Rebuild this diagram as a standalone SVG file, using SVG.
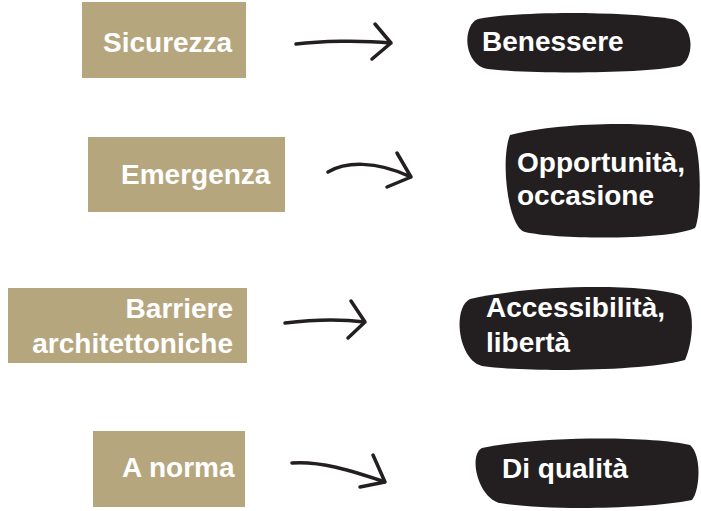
<svg xmlns="http://www.w3.org/2000/svg" width="701" height="511" viewBox="0 0 701 511">
<style>
.box{fill:#B6A67E}
.blob{fill:#231F20}
.t{font-family:"Liberation Sans",Arial,sans-serif;font-weight:bold;font-size:28px;fill:#fff}
.r{text-anchor:end}
.arr{fill:none;stroke:#231F20;stroke-width:3.5;stroke-linecap:round;stroke-linejoin:round}
</style>
<rect width="701" height="511" fill="#fff"/>
<g id="n-sicurezza"><rect class="box" x="82" y="2" width="164" height="76"/><text class="t" x="103" y="52">Sicurezza</text></g>
<g id="n-emergenza"><rect class="box" x="88" y="137" width="197" height="75"/><text class="t" x="121" y="184">Emergenza</text></g>
<g id="n-barriere"><rect class="box" x="8" y="288" width="239" height="75"/><text class="t r" x="233" y="318">Barriere</text><text class="t r" x="233" y="353">architettoniche</text></g>
<g id="n-anorma"><rect class="box" x="93" y="431" width="152" height="76"/><text class="t" x="122" y="477">A norma</text></g>
<g id="n-benessere"><path class="blob" d="M478,19 C520,11 620,11 672,19 C694,23 696,58 680,66 C640,74 530,74 488,69 C463,65 462,25 478,19 Z"/><text class="t" x="482" y="51">Benessere</text></g>
<g id="n-opportunita"><path class="blob" d="M510,135 C560,122 660,120 690,132 C702,140 702,215 695,228 C670,240 560,240 525,232 C508,228 500,160 510,135 Z"/><text class="t" x="517" y="172">Opportunità,</text><text class="t" x="517" y="205">occasione</text></g>
<g id="n-accessibilita"><path class="blob" d="M470,299 C530,285 640,283 680,295 C696,302 694,340 685,360 C640,372 520,372 482,366 C458,360 452,308 470,299 Z"/><text class="t" x="486" y="317">Accessibilità,</text><text class="t" x="486" y="352">libertà</text></g>
<g id="n-diqualita"><path class="blob" d="M482,448 C540,436 650,436 690,445 C702,455 700,490 692,500 C640,510 540,510 500,503 C478,498 468,455 482,448 Z"/><text class="t" x="502" y="478">Di qualità</text></g>
<g id="connectors">
<path class="arr" d="M296,44 C320,41 360,40 391,43 M375,24 L391,43 L372,59"/>
<path class="arr" d="M328,172 C345,162 375,160 411,177 M397,153 L411,177 L387,187"/>
<path class="arr" d="M285,323 C310,320 340,319 365,322 M351,301 L365,322 L348,338"/>
<path class="arr" d="M292,463 C320,461 350,470 385,482 M373,455 L385,482 L360,487"/>
</g>
</svg>
